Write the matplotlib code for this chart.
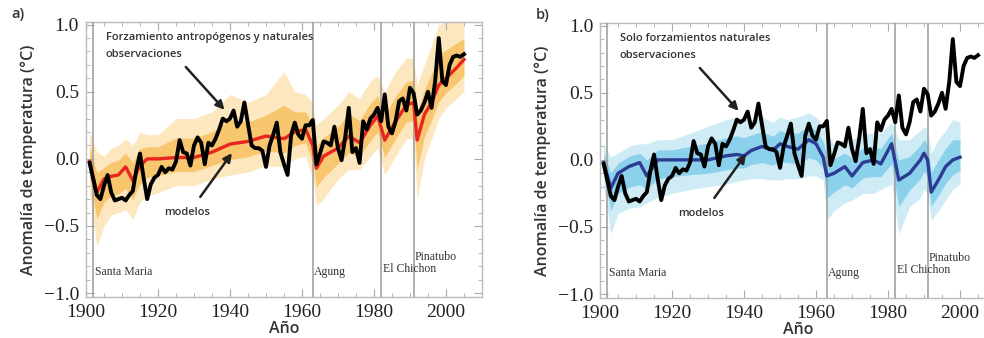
import numpy as np
import matplotlib
matplotlib.use("Agg")
import matplotlib.pyplot as plt
from matplotlib.ticker import MultipleLocator

# --- observations (same black series in both panels) ---
obs_years = np.arange(1901, 2006)
obs_vals = [-0.03, -0.15, -0.27, -0.30, -0.20, -0.12, -0.25, -0.31, -0.30, -0.29,
            -0.31, -0.27, -0.24, -0.08, 0.04, -0.14, -0.30, -0.19, -0.14, -0.12,
            -0.06, -0.10, -0.07, -0.08, -0.02, 0.14, 0.05, 0.04, -0.05, 0.10,
            0.16, 0.12, -0.04, 0.12, 0.10, 0.15, 0.22, 0.30, 0.28, 0.30,
            0.36, 0.24, 0.28, 0.42, 0.26, 0.10, 0.08, 0.08, 0.06, -0.06,
            0.10, 0.18, 0.27, 0.05, -0.04, -0.12, 0.18, 0.27, 0.18, 0.15,
            0.25, 0.25, 0.29, -0.04, 0.04, 0.13, 0.12, 0.10, 0.24, 0.08,
            -0.01, 0.16, 0.38, 0.05, 0.08, -0.03, 0.28, 0.22, 0.30, 0.33,
            0.38, 0.28, 0.48, 0.24, 0.19, 0.28, 0.43, 0.45, 0.36, 0.53,
            0.49, 0.33, 0.36, 0.42, 0.50, 0.38, 0.58, 0.90, 0.58, 0.55,
            0.70, 0.76, 0.77, 0.76, 0.78]

# --- panel a: anthropogenic + natural models (mean and ensemble spread) ---
a_years = [1901, 1903, 1905, 1907, 1909, 1911, 1913, 1915, 1917, 1920, 1925, 1930,
           1935, 1940, 1945, 1950, 1955, 1958, 1961, 1963, 1964, 1966, 1970, 1973,
           1976, 1979, 1981, 1983, 1986, 1989, 1991, 1992, 1994, 1996, 1998, 2000,
           2003, 2005]
a_mean = [-0.02, -0.25, -0.15, -0.13, -0.12, -0.06, -0.16, -0.05, 0.00, 0.00, 0.01, 0.01,
          0.05, 0.11, 0.13, 0.17, 0.15, 0.20, 0.22, 0.10, -0.07, 0.02, 0.08, 0.17,
          0.12, 0.25, 0.32, 0.14, 0.28, 0.40, 0.42, 0.14, 0.33, 0.42, 0.55, 0.60,
          0.68, 0.74]
a_lo = [-0.25, -0.65, -0.50, -0.42, -0.40, -0.38, -0.45, -0.32, -0.28, -0.25, -0.20, -0.20,
        -0.15, -0.12, -0.10, -0.05, -0.06, 0.00, 0.02, -0.15, -0.35, -0.30, -0.15, -0.08,
        -0.08, 0.02, 0.08, -0.12, 0.02, 0.15, 0.15, -0.30, 0.00, 0.15, 0.30, 0.38,
        0.45, 0.50]
a_hi = [0.20, 0.05, 0.02, 0.08, 0.10, 0.15, 0.10, 0.20, 0.18, 0.18, 0.30, 0.30,
        0.35, 0.48, 0.42, 0.48, 0.65, 0.50, 0.48, 0.42, 0.25, 0.30, 0.40, 0.50,
        0.45, 0.58, 0.62, 0.50, 0.65, 0.75, 0.75, 0.55, 0.70, 0.85, 1.00, 1.02,
        1.05, 1.05]

# --- panel b: natural-only models ---
b_years = [1901, 1903, 1905, 1908, 1911, 1913, 1916, 1920, 1925, 1930, 1935, 1938,
           1940, 1942, 1945, 1948, 1950, 1952, 1955, 1958, 1960, 1962, 1963, 1965,
           1968, 1970, 1973, 1976, 1978, 1981, 1983, 1986, 1989, 1990, 1991, 1992,
           1994, 1996, 1998, 2000]
b_mean = [-0.02, -0.21, -0.10, -0.05, -0.02, -0.12, 0.00, 0.00, 0.00, 0.00, 0.03, 0.04,
          0.03, 0.07, 0.10, 0.07, 0.12, 0.10, 0.08, 0.15, 0.12, 0.02, -0.12, -0.10,
          -0.05, -0.12, -0.02, 0.00, -0.03, 0.12, -0.15, -0.10, 0.00, 0.05, 0.00, -0.24,
          -0.15, -0.05, 0.00, 0.02]
b_lo = [-0.20, -0.55, -0.40, -0.36, -0.35, -0.32, -0.28, -0.25, -0.22, -0.20, -0.18, -0.16,
        -0.15, -0.14, -0.14, -0.15, -0.15, -0.14, -0.14, -0.12, -0.12, -0.15, -0.45, -0.38,
        -0.32, -0.30, -0.25, -0.25, -0.22, -0.18, -0.55, -0.35, -0.28, -0.22, -0.25, -0.45,
        -0.38, -0.30, -0.22, -0.18]
b_hi = [0.12, 0.02, 0.05, 0.10, 0.12, 0.12, 0.15, 0.15, 0.20, 0.25, 0.30, 0.32,
        0.30, 0.30, 0.32, 0.28, 0.32, 0.30, 0.32, 0.35, 0.32, 0.25, 0.18, 0.12,
        0.15, 0.15, 0.20, 0.20, 0.20, 0.28, 0.15, 0.15, 0.22, 0.25, 0.22, 0.05,
        0.15, 0.22, 0.30, 0.28]

volcanoes = ["Santa Maria", "Agung", "El Chichon", "Pinatubo"]
volcano_years = [1902, 1963, 1982, 1991]
volcano_label_y = [-0.84, -0.84, -0.82, -0.73]

SANS = "Open Sans"
SERIF = "Liberation Serif"
TXT = "#333333"

fig = plt.figure(figsize=(9.84, 3.38), dpi=100)
ax_a = fig.add_axes([0.0874, 0.121, 0.4024, 0.814])
ax_b = fig.add_axes([0.6098, 0.118, 0.4024, 0.814])


def draw_panel(ax, years, mean, lo, hi, col_out, col_in, col_mean, title, panel):
    years = np.array(years)
    mean = np.array(mean)
    lo = np.array(lo)
    hi = np.array(hi)
    # ensemble spread, outer and inner band
    ax.fill_between(years, lo, hi, color=col_out, alpha=0.55, lw=0, zorder=1)
    ax.fill_between(years, mean - 0.5 * (mean - lo), mean + 0.5 * (hi - mean),
                    color=col_in, alpha=0.55, lw=0, zorder=2)
    for v, yl, name in zip(volcano_years, volcano_label_y, volcanoes):
        ax.axvline(v, color="#9a9a9a", lw=1.1, zorder=3)
        ax.text(v + 0.4, yl, name, family=SERIF, fontsize=8.5, color=TXT,
                va="center", ha="left", zorder=6)
    ax.plot(years, mean, color=col_mean, lw=2.4, zorder=4)
    ax.plot(obs_years, obs_vals, color="black", lw=2.8, zorder=5)

    ax.set_xlim(1900, 2010)
    ax.set_ylim(-1.03, 1.02)
    ax.xaxis.set_major_locator(MultipleLocator(20))
    ax.xaxis.set_minor_locator(MultipleLocator(5))
    ax.yaxis.set_major_locator(MultipleLocator(0.5))
    ax.yaxis.set_minor_locator(MultipleLocator(0.1))
    ax.tick_params(which="both", direction="in", top=True, right=True,
                   color="#aaaaaa", labelsize=14, labelcolor="#222222")
    ax.tick_params(which="major", length=6, pad=5)
    ax.tick_params(which="minor", length=3)
    for lab in ax.get_xticklabels():
        lab.set_family(SERIF)
    ax.set_yticks([-1.0, -0.5, 0.0, 0.5, 1.0])
    ax.set_yticklabels(["\u22121.0", "\u22120.5", "0.0", "0.5", "1.0"], family=SERIF)
    for s in ax.spines.values():
        s.set_color("#bbbbbb")
        s.set_linewidth(1.0)

    ax.set_ylabel("Anomalía de temperatura (°C)", family=SANS, fontsize=11.5,
                  weight="semibold", color=TXT, labelpad=5)
    ax.set_xlabel("Año", family=SANS, fontsize=11.5, weight="semibold",
                  color=TXT, labelpad=0)

    ax.text(1905.5, 0.945, title + "\nobservaciones", family=SANS, fontsize=8,
            weight="semibold", color=TXT, va="top", ha="left", linespacing=1.75,
            zorder=7)
    ax.annotate("", xy=(1939.0, 0.35), xytext=(1927.2, 0.70),
                arrowprops=dict(arrowstyle="-|>,head_width=0.25,head_length=0.5",
                                color="#222222", lw=1.8), zorder=7)
    ax.text(1928.0, -0.40, "modelos", family=SANS, fontsize=8, weight="semibold",
            color=TXT, ha="center", va="center", zorder=7)
    ax.annotate("", xy=(1941.0, 0.06), xytext=(1931.3, -0.30),
                arrowprops=dict(arrowstyle="-|>,head_width=0.25,head_length=0.5",
                                color="#222222", lw=1.8), zorder=7)
    fig.text(panel[0], panel[1], panel[2], family=SANS, fontsize=10.5,
             weight="semibold", color=TXT, ha="left", va="center")


draw_panel(ax_a, a_years, a_mean, a_lo, a_hi, "#fbd48c", "#f5ac2e", "#e8261e",
           "Forzamiento antropógenos y naturales", (0.012, 0.96, "a)"))
draw_panel(ax_b, b_years, b_mean, b_lo, b_hi, "#a6dcf0", "#56bde2", "#2c3b93",
           "Solo forzamientos naturales", (0.544, 0.955, "b)"))

fig.savefig("out.png", dpi=100)
